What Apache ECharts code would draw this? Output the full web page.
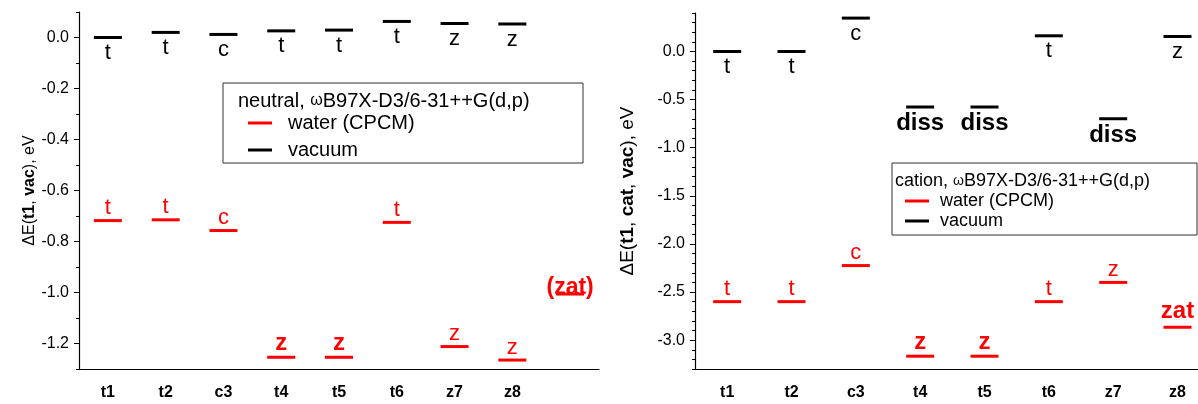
<!DOCTYPE html>
<html>
<head>
<meta charset="utf-8">
<script src="https://cdn.jsdelivr.net/npm/echarts@6/dist/echarts.min.js"></script>
<style>
html,body{margin:0;padding:0;background:#fff}
#chart{width:1198px;height:404px}
</style>
</head>
<body>
<div id="chart"></div>
<script>
// categories (last one is the empty slot used for zat)
var xCats = ['t1', 't2', 'c3', 't4', 't5', 't6', 'z7', 'z8', ''];

// left panel: neutral, eV
var neutWater    = [-0.718, -0.715, -0.757, -1.254, -1.254, -0.725, -1.212, -1.265, -1.006];
var neutWaterLbl = ['t', 't', 'c', 'z', 'z', 't', 'z', 'z', '(zat)'];
var neutVac      = [0.0, 0.020, 0.012, 0.026, 0.029, 0.063, 0.055, 0.053];
var neutVacLbl   = ['t', 't', 'c', 't', 't', 't', 'z', 'z'];

// right panel: cation, eV
var catWater    = [-2.60, -2.60, -2.225, -3.167, -3.167, -2.60, -2.40, -2.866];
var catWaterLbl = ['t', 't', 'c', 'z', 'z', 't', 'z', 'zat'];
var catVac      = [0.0, 0.0, 0.347, -0.577, -0.577, 0.163, -0.699, 0.156];
var catVacLbl   = ['t', 't', 'c', 'diss', 'diss', 't', 'diss', 'z'];

// y tick labels
var neutTicks = [0, -0.2, -0.4, -0.6, -0.8, -1.0, -1.2];
var catTicks  = [0, -0.5, -1.0, -1.5, -2.0, -2.5, -3.0];

var F = 'Liberation Sans, Arial, sans-serif';
var RED = '#ff0000', BLK = '#000000';

var chart = echarts.init(document.getElementById('chart'));

function isBold(txt, i, isWater) {
  if (txt === 'diss' || txt === 'zat' || txt === '(zat)') return true;
  return isWater && txt === 'z' && (i === 3 || i === 4);
}

function marks(name, vals, lbls, color, below, xi, yi) {
  return {
    type: 'scatter', name: name, xAxisIndex: xi, yAxisIndex: yi,
    symbol: 'rect', symbolSize: [28, 3],
    itemStyle: {color: color, opacity: 1},
    emphasis: {disabled: true},
    label: {show: true, position: below ? 'bottom' : 'top', distance: below ? 3 : 0,
      color: color, opacity: 1, fontFamily: F, fontSize: 22, textBorderWidth: 0},
    data: vals.map(function (v, i) {
      var b = isBold(lbls[i], i, !below);
      var lab = {formatter: lbls[i], fontWeight: b ? 'bold' : 'normal', fontSize: b ? 24 : 22};
      if (lbls[i] === 'zat') lab.distance = 2;
      if (lbls[i].charAt(0) === '(') {
        lab.position = 'inside';
        lab.fontSize = 23;
        lab.offset = [0, -6];
      }
      return {value: [i, v], label: lab};
    })
  };
}

function xAx(grid) {
  return {
    type: 'category', gridIndex: grid, data: xCats, boundaryGap: true,
    axisLine: {onZero: false, lineStyle: {color: '#000', width: 1.2}},
    axisTick: {alignWithLabel: true, length: 5, lineStyle: {color: '#000'}},
    axisLabel: {color: '#000', fontFamily: F, fontSize: 16, fontWeight: 'bold', margin: 16},
    splitLine: {show: false}
  };
}

function yMinor(grid, min, max) {
  return {
    type: 'value', gridIndex: grid, min: min, max: max, interval: 0.1, position: 'left',
    axisLine: {show: true, onZero: false, lineStyle: {color: '#000', width: 1.2}},
    axisTick: {show: true, length: 3, lineStyle: {color: '#000'}},
    axisLabel: {show: false}, splitLine: {show: false}
  };
}

function yMajor(grid, min, max, ticks, name, gap, fs) {
  return {
    type: 'value', gridIndex: grid, min: min, max: max, position: 'left',
    name: name, nameLocation: 'middle', nameGap: gap,
    nameTextStyle: {color: '#000', fontFamily: F, fontSize: fs,
      rich: {n: {fontFamily: F, fontSize: fs, color: '#000'},
             b: {fontFamily: F, fontSize: fs, color: '#000', fontWeight: 'bold'}}},
    axisLine: {show: false, onZero: false},
    axisTick: {show: true, length: 5, customValues: ticks, lineStyle: {color: '#000'}},
    axisLabel: {show: true, customValues: ticks, color: '#000', fontFamily: F, fontSize: 16, margin: 10,
      formatter: function (v) { return v.toFixed(1); }},
    splitLine: {show: false}
  };
}

function legendBox(x, y, w, h, title, fs, lineY1, lineY2, lx, tx) {
  return [
    {type: 'rect', shape: {x: x, y: y, width: w, height: h},
      style: {fill: '#fff', stroke: '#333', lineWidth: 1}},
    {type: 'text', style: {x: lx - 10, y: y + 18, text: title, verticalAlign: 'middle',
      font: fs + 'px ' + F, fill: '#000',
      rich: {w: {fontSize: fs - 4, fontFamily: F, fill: '#000'}, n: {fontSize: fs, fontFamily: F, fill: '#000'}}}},
    {type: 'line', shape: {x1: lx, y1: lineY1, x2: lx + 24, y2: lineY1}, style: {stroke: RED, lineWidth: 3}},
    {type: 'text', style: {x: tx, y: lineY1, text: 'water (CPCM)', verticalAlign: 'middle', font: fs + 'px ' + F, fill: '#000'}},
    {type: 'line', shape: {x1: lx, y1: lineY2, x2: lx + 24, y2: lineY2}, style: {stroke: BLK, lineWidth: 3}},
    {type: 'text', style: {x: tx, y: lineY2, text: 'vacuum', verticalAlign: 'middle', font: fs + 'px ' + F, fill: '#000'}}
  ];
}

var option = {
  backgroundColor: '#fff',
  animation: false,
  grid: [
    {left: 79, top: 12, width: 520, height: 357, outerBoundsMode: 'none', containLabel: false},
    {left: 695, top: 13, width: 579, height: 356, outerBoundsMode: 'none', containLabel: false}
  ],
  xAxis: [xAx(0), xAx(1)],
  yAxis: [
    yMajor(0, -1.3, 0.1, neutTicks, '{n|ΔE(}{b|t1}{n|, }{b|vac}{n|), eV}', 40, 16),
    yMinor(0, -1.3, 0.1),
    yMajor(1, -3.3, 0.4, catTicks, '{n|ΔE(}{b|t1}{n|, }{b|cat}{n|, }{b|vac}{n|), eV}', 58, 19),
    yMinor(1, -3.3, 0.4)
  ],
  series: [
    marks('vacuum', neutVac, neutVacLbl, BLK, true, 0, 0),
    marks('water (CPCM)', neutWater, neutWaterLbl, RED, false, 0, 0),
    marks('vacuum', catVac, catVacLbl, BLK, true, 1, 2),
    marks('water (CPCM)', catWater, catWaterLbl, RED, false, 1, 2)
  ],
  graphic: legendBox(223, 83, 360, 80, '{n|neutral, }{w|ω}{n|B97X-D3/6-31++G(d,p)}', 20, 123, 150, 248, 288)
    .concat(legendBox(892, 163, 305, 72, '{n|cation, }{w|ω}{n|B97X-D3/6-31++G(d,p)}', 18, 201, 221, 905, 940))
};
chart.setOption(option);
</script>
</body>
</html>
